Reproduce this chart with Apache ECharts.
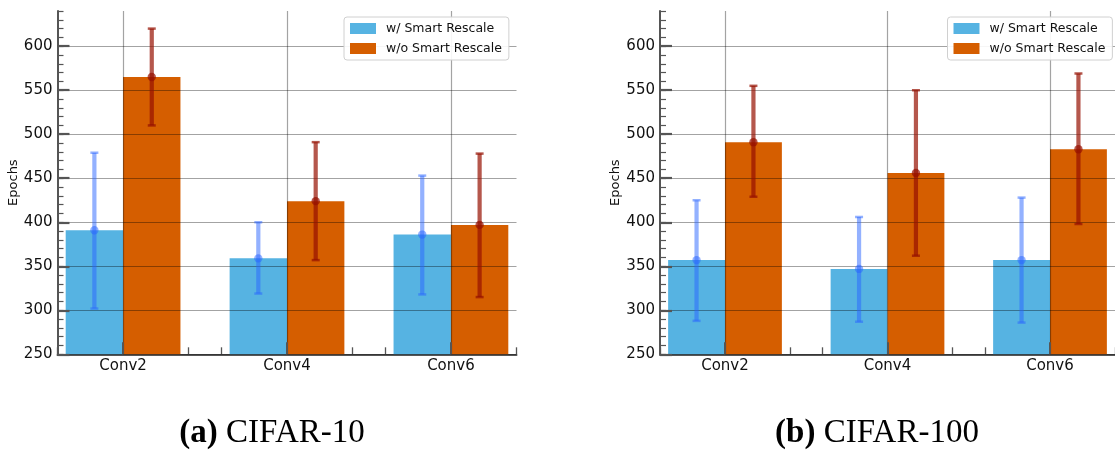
<!DOCTYPE html>
<html>
<head>
<meta charset="utf-8">
<title>Epochs with and without Smart Rescale</title>
<script src="https://cdn.jsdelivr.net/npm/echarts@6/dist/echarts.min.js"></script>
<style>
  html, body { margin: 0; padding: 0; background: #fff; }
  #chart { width: 1115px; height: 452px; }
</style>
</head>
<body>
<div id="chart"></div>
<script>
// Network architectures on the x axis
const categories = ['Conv2', 'Conv4', 'Conv6'];
const seriesNames = ['w/ Smart Rescale', 'w/o Smart Rescale'];
const yTickValues = [250, 300, 350, 400, 450, 500, 550, 600];

// CIFAR-10: mean epochs and error-bar ends
const c10With      = [391, 359, 386];
const c10WithLo    = [302, 319, 318];
const c10WithHi    = [479, 400, 453];
const c10Without   = [565, 424, 397];
const c10WithoutLo = [510, 357, 315];
const c10WithoutHi = [620, 491, 478];

// CIFAR-100: mean epochs and error-bar ends
const c100With      = [357, 347, 357];
const c100WithLo    = [288, 287, 286];
const c100WithHi    = [425, 406, 428];
const c100Without   = [491, 456, 483];
const c100WithoutLo = [429, 362, 398];
const c100WithoutHi = [555, 550, 569];

const Y_MIN = 250, Y_MAX = 640;
const BAR_W = 0.35;
const BLUE = '#56B3E2';
const ORANGE = '#D55E00';
const ERR_BLUE = 'rgba(40,100,255,0.5)';
const ERR_RED = 'rgba(150,15,0,0.7)';
const AXIS_COLOR = '#555';
const GRID_COLOR = 'rgba(0,0,0,0.36)';
const FONT = 'DejaVu Sans';
const SERIF = 'Liberation Serif';

function barRender(offset) {
  return function (params, api) {
    const x = api.value(0) + offset;
    const v = api.value(1);
    const p0 = api.coord([x - BAR_W / 2, v]);
    const p1 = api.coord([x + BAR_W / 2, Y_MIN]);
    return {
      type: 'rect',
      shape: { x: p0[0], y: p0[1], width: p1[0] - p0[0], height: p1[1] - p0[1] },
      style: { fill: api.visual('color') }
    };
  };
}

function errRender(offset, color) {
  return function (params, api) {
    const x = api.value(0) + offset;
    const top = api.coord([x, api.value(2)]);
    const bot = api.coord([x, api.value(1)]);
    const mid = api.coord([x, api.value(3)]);
    const cap = 4;
    return {
      type: 'group',
      children: [
        { type: 'line', shape: { x1: top[0], y1: top[1], x2: bot[0], y2: bot[1] },
          style: { stroke: color, lineWidth: 4.2 } },
        { type: 'line', shape: { x1: top[0] - cap, y1: top[1], x2: top[0] + cap, y2: top[1] },
          style: { stroke: color, lineWidth: 2.5 } },
        { type: 'line', shape: { x1: bot[0] - cap, y1: bot[1], x2: bot[0] + cap, y2: bot[1] },
          style: { stroke: color, lineWidth: 2.5 } },
        { type: 'circle', shape: { cx: mid[0], cy: mid[1], r: 4.2 },
          style: { fill: color } }
      ]
    };
  };
}

function barData(values) {
  return values.map((v, i) => [i, v]);
}
function errData(lo, hi, mean) {
  return mean.map((m, i) => [i, lo[i], hi[i], m]);
}

function xAxesFor(gridIndex) {
  return [
    { // minor ticks every 0.2 and the axis line
      type: 'value', gridIndex, position: 'bottom', min: -0.4, max: 2.4, interval: 0.2,
      axisLine: { show: true, onZero: false, lineStyle: { color: AXIS_COLOR, width: 2 } },
      axisTick: { show: true, inside: true, length: 7, lineStyle: { color: AXIS_COLOR, width: 1.3 } },
      axisLabel: { show: false },
      splitLine: { show: false }
    },
    { // major ticks, labels and vertical grid lines at each category
      type: 'value', gridIndex, position: 'bottom', min: -0.4, max: 2.4, interval: 0.2, z: 3,
      axisLine: { show: false, onZero: false },
      axisTick: { show: true, inside: true, length: 12, customValues: [0, 1, 2],
        lineStyle: { color: AXIS_COLOR, width: 2 } },
      axisLabel: { show: true, customValues: [0, 1, 2], margin: 4,
        formatter: v => categories[Math.round(v)],
        fontFamily: FONT, fontSize: 15, color: '#111' },
      splitLine: { show: true, lineStyle: { color: GRID_COLOR, width: 1.2 } }
    }
  ];
}

function yAxesFor(gridIndex) {
  return [
    { // major ticks, labels and horizontal grid lines
      type: 'value', gridIndex, position: 'left', min: Y_MIN, max: Y_MAX, interval: 50, z: 3,
      name: 'Epochs', nameLocation: 'middle', nameGap: 28,
      nameTextStyle: { fontFamily: FONT, fontSize: 13, color: '#111' },
      axisLine: { show: true, onZero: false, lineStyle: { color: AXIS_COLOR, width: 2 } },
      axisTick: { show: true, inside: true, length: 12, customValues: yTickValues,
        lineStyle: { color: AXIS_COLOR, width: 2.2 } },
      axisLabel: { show: true, customValues: yTickValues, margin: 5,
        fontFamily: FONT, fontSize: 15, color: '#111' },
      splitLine: { show: true, lineStyle: { color: GRID_COLOR, width: 1.2 } }
    },
    { // minor ticks every 10 epochs
      type: 'value', gridIndex, position: 'left', offset: 0, min: Y_MIN, max: Y_MAX, interval: 10,
      axisLine: { show: false, onZero: false },
      axisTick: { show: true, inside: true, length: 6, lineStyle: { color: AXIS_COLOR, width: 1.2 } },
      axisLabel: { show: false },
      splitLine: { show: false }
    }
  ];
}

function panelSeries(xIdx, yIdx, withVals, withLo, withHi, withoutVals, withoutLo, withoutHi) {
  return [
    { type: 'custom', name: seriesNames[0], xAxisIndex: xIdx, yAxisIndex: yIdx, z: 2,
      itemStyle: { color: BLUE }, renderItem: barRender(-BAR_W / 2), data: barData(withVals) },
    { type: 'custom', name: seriesNames[1], xAxisIndex: xIdx, yAxisIndex: yIdx, z: 2,
      itemStyle: { color: ORANGE }, renderItem: barRender(BAR_W / 2), data: barData(withoutVals) },
    { type: 'custom', xAxisIndex: xIdx, yAxisIndex: yIdx, z: 6, silent: true,
      renderItem: errRender(-BAR_W / 2, ERR_BLUE), data: errData(withLo, withHi, withVals) },
    { type: 'custom', xAxisIndex: xIdx, yAxisIndex: yIdx, z: 6, silent: true,
      renderItem: errRender(BAR_W / 2, ERR_RED), data: errData(withoutLo, withoutHi, withoutVals) }
  ];
}

function legendAt(left) {
  return {
    left, top: 17, orient: 'vertical', icon: 'rect', z: 10,
    data: seriesNames, itemWidth: 26, itemHeight: 11, itemGap: 7,
    padding: [5, 7, 5, 6],
    backgroundColor: 'rgba(255,255,255,0.9)',
    borderColor: '#d0d0d0', borderWidth: 1, borderRadius: 3,
    selectedMode: false,
    textStyle: { fontFamily: FONT, fontSize: 12.5, color: '#111', padding: [0, 0, 0, 5] }
  };
}

function caption(x, tag, title) {
  return {
    type: 'text', x, y: 433, z: 10,
    style: {
      text: '{b|' + tag + '} ' + title, align: 'center', verticalAlign: 'middle',
      fontFamily: SERIF, fontSize: 33, fill: '#000',
      rich: { b: { fontFamily: SERIF, fontSize: 33, fontWeight: 'bold', fill: '#000' } }
    }
  };
}

const chart = echarts.init(document.getElementById('chart'), null, { renderer: 'canvas' });

chart.setOption({
  animation: false,
  backgroundColor: '#fff',
  textStyle: { fontFamily: FONT },
  grid: [
    { left: 57.5, top: 11, width: 459, height: 343.3 },
    { left: 660, top: 11, width: 459, height: 343.3 }
  ],
  xAxis: [...xAxesFor(0), ...xAxesFor(1)],
  yAxis: [...yAxesFor(0), ...yAxesFor(1)],
  legend: [legendAt(344), legendAt(947.5)],
  series: [
    ...panelSeries(0, 0, c10With, c10WithLo, c10WithHi, c10Without, c10WithoutLo, c10WithoutHi),
    ...panelSeries(2, 2, c100With, c100WithLo, c100WithHi, c100Without, c100WithoutLo, c100WithoutHi)
  ],
  graphic: [
    caption(272, '(a)', 'CIFAR-10'),
    caption(877, '(b)', 'CIFAR-100')
  ]
});
</script>
</body>
</html>
